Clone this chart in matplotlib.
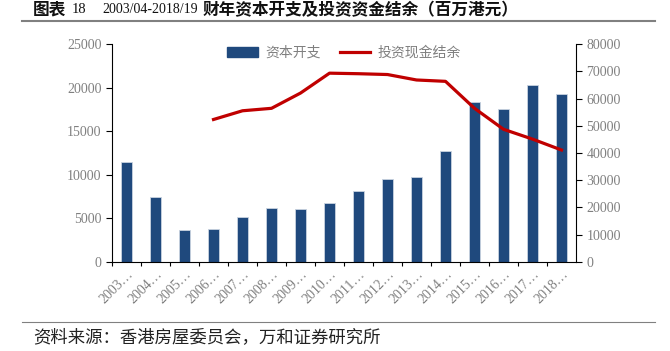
import numpy as np
import matplotlib.pyplot as plt
from matplotlib.lines import Line2D

plt.rcParams['font.family'] = ['Noto Sans CJK SC', 'DejaVu Sans']

## data
years = ['2003/04', '2004/05', '2005/06', '2006/07', '2007/08', '2008/09',
         '2009/10', '2010/11', '2011/12', '2012/13', '2013/14', '2014/15',
         '2015/16', '2016/17', '2017/18', '2018/19']
capex = [11450, 7490, 3710, 3780, 5200, 6190, 6040, 6760, 8140, 9470,
         9700, 12720, 18340, 17490, 20320, 19250]
# cash balance only reported from 2006/07
balance = [np.nan, np.nan, np.nan, 52300, 55500, 56400, 62000, 69300,
           69100, 68800, 66800, 66300, 56400, 48700, 45100, 41100]

tick_labels = [y[:4] + '…' for y in years]
bar_color = '#1F497D'
line_color = '#C00000'
grey = '#808080'
serif = ['Liberation Serif', 'DejaVu Serif']

fig = plt.figure(figsize=(6.7, 3.51), dpi=100)
ax = fig.add_axes([0.1672, 0.2536, 0.6925, 0.621])
ax2 = ax.twinx()

x = np.arange(len(years))
ax.bar(x, capex, width=0.4, color=bar_color, edgecolor='#C9D3E0', linewidth=0.6, zorder=2)
ax2.plot(x, balance, color=line_color, linewidth=2.3, zorder=3)

ax.set_xlim(-0.5, len(years) - 0.5)
ax.set_ylim(0, 25000)
ax2.set_ylim(0, 80000)
ax.set_yticks(np.arange(0, 25001, 5000))
ax2.set_yticks(np.arange(0, 80001, 10000))

ax.set_xticks(x - 0.5, minor=False)
ax.set_xticklabels([])
ax.set_xticks(x, minor=True)
ax.set_xticklabels(tick_labels, minor=True, rotation=45, ha='right', va='top',
                   rotation_mode='anchor', fontsize=10, color=grey, family=serif)
ax.tick_params(axis='x', which='minor', length=0, pad=4)
ax.tick_params(axis='x', which='major', direction='out', length=3, color='black')

for a in (ax, ax2):
    a.tick_params(axis='y', labelsize=10, labelcolor=grey, length=4, direction='out')
    for lab in a.get_yticklabels():
        lab.set_family(serif)
    a.spines['top'].set_visible(False)

ax2.spines['left'].set_visible(False)
ax2.spines['bottom'].set_visible(False)
ax.spines['right'].set_visible(False)

handles = [plt.Rectangle((0, 0), 1, 1, color=bar_color),
           Line2D([0], [0], color=line_color, linewidth=2.3)]
leg = ax.legend(handles, ['资本开支', '投资现金结余'], loc='upper center',
                bbox_to_anchor=(0.5, 1.05), ncol=2, frameon=False, fontsize=10,
                handlelength=2.2, handleheight=0.7, handletextpad=0.5,
                columnspacing=1.4, labelcolor=grey)

# title pieces, rules and source
ty = 0.972
fig.text(33 / 670, ty, '图表', fontsize=12, fontweight='bold', va='center', color='#111111')
fig.text(72 / 670, ty, '18', fontsize=10.5, family=serif, va='center', color='#111111')
fig.text(102 / 670, ty, '2003/04-2018/19', fontsize=10, family=serif, va='center',
         color='#111111')
fig.text(203 / 670, ty, '财年资本开支及投资资金结余（百万港元）', fontsize=12,
         fontweight='bold', va='center', color='#111111')
fig.add_artist(Line2D([0.033, 0.978], [0.940, 0.940], color='#808080', linewidth=1.5))
fig.add_artist(Line2D([0.033, 0.978], [0.0835, 0.0835], color='#808080', linewidth=0.8))
fig.text(33 / 670, 0.040, '资料来源：香港房屋委员会，万和证券研究所', fontsize=12.5,
         va='center', color='#222222')

fig.savefig('out.png', dpi=100)
